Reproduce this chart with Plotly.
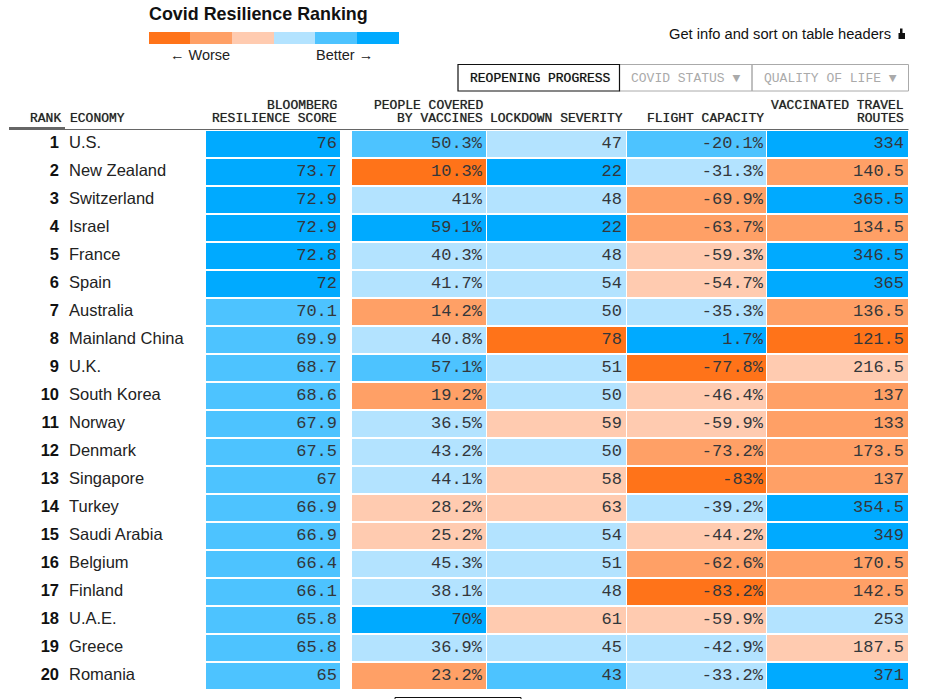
import plotly.graph_objects as go

# ---------- data ----------
ranks = list(range(1, 21))
economies = ["U.S.", "New Zealand", "Switzerland", "Israel", "France", "Spain", "Australia",
             "Mainland China", "U.K.", "South Korea", "Norway", "Denmark", "Singapore", "Turkey",
             "Saudi Arabia", "Belgium", "Finland", "U.A.E.", "Greece", "Romania"]
score = [76, 73.7, 72.9, 72.9, 72.8, 72, 70.1, 69.9, 68.7, 68.6, 67.9, 67.5, 67, 66.9, 66.9, 66.4, 66.1, 65.8, 65.8, 65]
vaccines = [50.3, 10.3, 41, 59.1, 40.3, 41.7, 14.2, 40.8, 57.1, 19.2, 36.5, 43.2, 44.1, 28.2, 25.2, 45.3, 38.1, 70, 36.9, 23.2]
lockdown = [47, 22, 48, 22, 48, 54, 50, 78, 51, 50, 59, 50, 58, 63, 54, 51, 48, 61, 45, 43]
flight = [-20.1, -31.3, -69.9, -63.7, -59.3, -54.7, -35.3, 1.7, -77.8, -46.4, -59.9, -73.2, -83, -39.2, -44.2, -62.6, -83.2, -59.9, -42.9, -33.2]
routes = [334, 140.5, 365.5, 134.5, 346.5, 365, 136.5, 121.5, 216.5, 137, 133, 173.5, 137, 354.5, 349, 170.5, 142.5, 253, 187.5, 371]

# colour class of each cell: 0 = worst ... 5 = best
score_cls = [5, 5, 5, 5, 5, 5, 4, 4, 4, 4, 4, 4, 4, 4, 4, 4, 4, 4, 4, 4]
vaccines_cls = [4, 0, 3, 5, 3, 3, 1, 3, 4, 1, 3, 3, 3, 2, 2, 3, 3, 5, 3, 1]
lockdown_cls = [3, 5, 3, 5, 3, 3, 3, 0, 3, 3, 2, 3, 2, 2, 3, 3, 3, 2, 3, 4]
flight_cls = [4, 3, 1, 1, 2, 2, 3, 5, 0, 2, 2, 1, 0, 3, 2, 1, 0, 2, 3, 3]
routes_cls = [5, 1, 5, 1, 5, 5, 1, 0, 2, 1, 1, 1, 1, 5, 5, 1, 1, 3, 2, 5]

palette = ["#FF7319", "#FFA066", "#FFCBB0", "#B3E3FF", "#4DC3FF", "#00AAFF"]

# ---------- layout constants (pixels) ----------
W, H = 935, 699
ROW_H, ROW_TOP = 28, 130
y_at = lambda py: 0.5 + (py - ROW_TOP) / ROW_H
colorscale = []
for i, c in enumerate(palette):
    colorscale += [[i / 6, c], [(i + 1) / 6, c]]

row_edges = [r - 0.5 for r in ranks] + [20.5]
fig = go.Figure()
cell = dict(colorscale=colorscale, zmin=-0.5, zmax=5.5, showscale=False, xgap=1, ygap=2, hoverinfo="skip")
fig.add_trace(go.Heatmap(x=[206, 341], y=row_edges, z=[[c] for c in score_cls], **cell))
fig.add_trace(go.Heatmap(x=[352, 487, 627, 767, 909], y=row_edges,
                         z=[list(r) for r in zip(vaccines_cls, lockdown_cls, flight_cls, routes_cls)], **cell))

MONO = "Liberation Mono"
SANS = "Liberation Sans"
fmt = lambda v, s="": f"{v:g}{s}"
columns = [(score, "", 337), (vaccines, "%", 482), (lockdown, "", 622), (flight, "%", 763), (routes, "", 904)]
for vals, suf, xr in columns:
    fig.add_trace(go.Scatter(x=[xr] * 20, y=ranks, mode="text", text=[fmt(v, suf) for v in vals],
                             textposition="middle left", hoverinfo="skip",
                             textfont=dict(family=MONO, size=17, color="#33373b")))
fig.add_trace(go.Scatter(x=[59] * 20, y=ranks, mode="text", text=[str(r) for r in ranks],
                         textposition="middle left", hoverinfo="skip",
                         textfont=dict(family=SANS, size=16.5, color="#111", weight="bold")))
fig.add_trace(go.Scatter(x=[69] * 20, y=ranks, mode="text", text=economies,
                         textposition="middle right", hoverinfo="skip",
                         textfont=dict(family=SANS, size=16.5, color="#222")))

SHADOW = "0 0 0.7px rgba(0,0,0,0.6)"

def note(x, py, text, anchor="left", size=13, family=MONO, color="#222", bold=False, shadow=None):
    t = f"<b>{text}</b>" if bold else text
    f = dict(family=family, size=size, color=color)
    if shadow:
        f["shadow"] = shadow
    return dict(x=x, y=1 - py / H, xref="x", yref="paper", text=t, showarrow=False, xanchor=anchor,
                yanchor="middle", borderpad=0, font=f)

def rect(x0, py0, x1, py1, fill=None, line=None, lw=1):
    return dict(type="rect", xref="x", yref="paper", x0=x0, x1=x1, y0=1 - py0 / H, y1=1 - py1 / H,
                fillcolor=fill or "rgba(0,0,0,0)", line=dict(color=line or "rgba(0,0,0,0)", width=lw if line else 0))

hdr = dict(shadow=SHADOW)
ann = [
    note(148, 13.5, "Covid Resilience Ranking", size=17.9, family=SANS, color="#111", bold=True),
    note(231, 55, "<b>←</b> Worse", "right", 14.5, SANS),
    note(315, 55, "Better <b>→</b>", "left", 14.5, SANS),
    note(892, 34, "Get info and sort on table headers", "right", 14.7, SANS, "#111"),
    note(468.5, 79, "REOPENING PROGRESS", size=13, color="#111", **hdr),
    note(630, 79, "COVID STATUS ▼", size=13, color="#aaa"),
    note(762.5, 79, "QUALITY OF LIFE ▼", size=13, color="#aaa"),
    note(62, 119, "RANK", "right", **hdr),
    note(68.5, 119, "ECONOMY", **hdr),
    note(338, 105, "BLOOMBERG", "right", **hdr),
    note(338, 119, "RESILIENCE SCORE", "right", **hdr),
    note(484, 105, "PEOPLE COVERED", "right", **hdr),
    note(484, 119, "BY VACCINES", "right", **hdr),
    note(624, 119, "LOCKDOWN SEVERITY", "right", **hdr),
    note(765, 119, "FLIGHT CAPACITY", "right", **hdr),
    note(905, 105, "VACCINATED TRAVEL", "right", **hdr),
    note(905, 119, "ROUTES", "right", **hdr),
]

legend_edges = [149, 190, 232, 274, 315, 357, 399]
shapes = [rect(legend_edges[i], 32, legend_edges[i + 1], 44, fill=palette[i]) for i in range(6)]
shapes += [
    rect(619, 64.5, 752, 91, line="#aaa"),
    rect(752, 64.5, 908.5, 91, line="#aaa"),
    rect(458, 64.5, 619.5, 91, fill="white", line="#111", lw=1.2),
    rect(9, 127, 65, 130, fill="#666"),
    rect(65, 129, 908.5, 130, fill="#666"),
    rect(395, 697.5, 521, 705, line="#111", lw=1),
    # small hand icon
    rect(898.5, 33, 905, 39, fill="#111"),
    rect(900, 28.5, 902.5, 34, fill="#111"),
]

fig.update_layout(
    width=W, height=H, margin=dict(l=0, r=0, t=0, b=0), showlegend=False,
    paper_bgcolor="white", plot_bgcolor="white",
    xaxis=dict(range=[0, W], visible=False, fixedrange=True),
    yaxis=dict(range=[y_at(H), y_at(0)], visible=False, fixedrange=True),
    annotations=ann, shapes=shapes,
)
fig.write_html("out.html", config=dict(displayModeBar=False),
               post_script="document.body.style.margin='0';document.documentElement.style.overflow='hidden';")
